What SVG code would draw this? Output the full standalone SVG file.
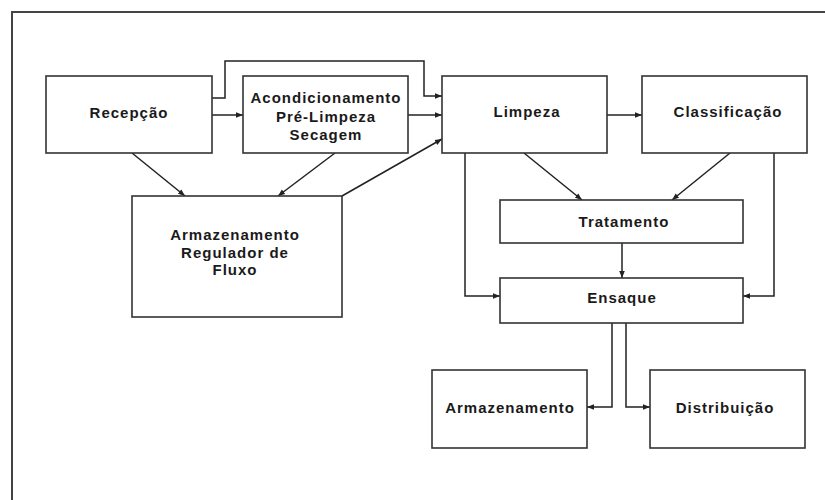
<svg xmlns="http://www.w3.org/2000/svg" width="825" height="500" viewBox="0 0 825 500">
<style>
.box{fill:#fff;stroke:#333;stroke-width:1.6}
.t{font-family:"Liberation Sans",Arial,sans-serif;font-size:15px;font-weight:bold;fill:#1a1a1a;text-anchor:middle;letter-spacing:1px}
.c{fill:none;stroke:#222;stroke-width:1.5}
</style>
<defs>
<marker id="ah" viewBox="0 0 10 10" refX="10" refY="5" markerWidth="7" markerHeight="7" markerUnits="userSpaceOnUse" orient="auto">
<path d="M0,1 L10,5 L0,9 z" fill="#222"/>
</marker>
</defs>
<rect width="825" height="500" fill="#fff"/>
<path d="M12,500 L12,12 L825,12" fill="none" stroke="#444" stroke-width="2"/>
<g id="connectors">
<line class="c" x1="212" y1="115" x2="243" y2="115" marker-end="url(#ah)"/>
<path class="c" d="M212,98 H225 V61 H424 V96 H442" marker-end="url(#ah)"/>
<line class="c" x1="408" y1="115" x2="442" y2="115" marker-end="url(#ah)"/>
<line class="c" x1="342" y1="196" x2="442" y2="139" marker-end="url(#ah)"/>
<line class="c" x1="132" y1="153" x2="185" y2="196" marker-end="url(#ah)"/>
<line class="c" x1="335" y1="153" x2="278" y2="196" marker-end="url(#ah)"/>
<line class="c" x1="607" y1="115" x2="642" y2="115" marker-end="url(#ah)"/>
<line class="c" x1="524" y1="153" x2="582" y2="200" marker-end="url(#ah)"/>
<line class="c" x1="730" y1="153" x2="672" y2="200" marker-end="url(#ah)"/>
<line class="c" x1="622" y1="243" x2="622" y2="278" marker-end="url(#ah)"/>
<path class="c" d="M465,153 V296 H500" marker-end="url(#ah)"/>
<path class="c" d="M774,153 V296 H743" marker-end="url(#ah)"/>
<path class="c" d="M612,323 V407 H587" marker-end="url(#ah)"/>
<path class="c" d="M626,323 V407 H650" marker-end="url(#ah)"/>
</g>
<g id="recepcao">
<rect class="box" x="46" y="76" width="166" height="77"/>
<text class="t" x="129" y="118">Recepção</text>
</g>
<g id="acondicionamento">
<rect class="box" x="243" y="76" width="165" height="77"/>
<text class="t" x="326" y="103">Acondicionamento</text>
<text class="t" x="326" y="121.5">Pré-Limpeza</text>
<text class="t" x="326" y="140">Secagem</text>
</g>
<g id="limpeza">
<rect class="box" x="442" y="76" width="165" height="77"/>
<text class="t" x="527" y="117">Limpeza</text>
</g>
<g id="classificacao">
<rect class="box" x="642" y="76" width="165" height="77"/>
<text class="t" x="728" y="117">Classificação</text>
</g>
<g id="armazenamento-regulador">
<rect class="box" x="132" y="196" width="210" height="121"/>
<text class="t" x="235" y="240">Armazenamento</text>
<text class="t" x="235" y="257.5">Regulador de</text>
<text class="t" x="235" y="275">Fluxo</text>
</g>
<g id="tratamento">
<rect class="box" x="500" y="200" width="243" height="43"/>
<text class="t" x="624" y="227">Tratamento</text>
</g>
<g id="ensaque">
<rect class="box" x="500" y="278" width="243" height="45"/>
<text class="t" x="622" y="303">Ensaque</text>
</g>
<g id="armazenamento">
<rect class="box" x="432" y="370" width="155" height="78"/>
<text class="t" x="510" y="413">Armazenamento</text>
</g>
<g id="distribuicao">
<rect class="box" x="650" y="370" width="155" height="78"/>
<text class="t" x="725" y="413">Distribuição</text>
</g>
</svg>
